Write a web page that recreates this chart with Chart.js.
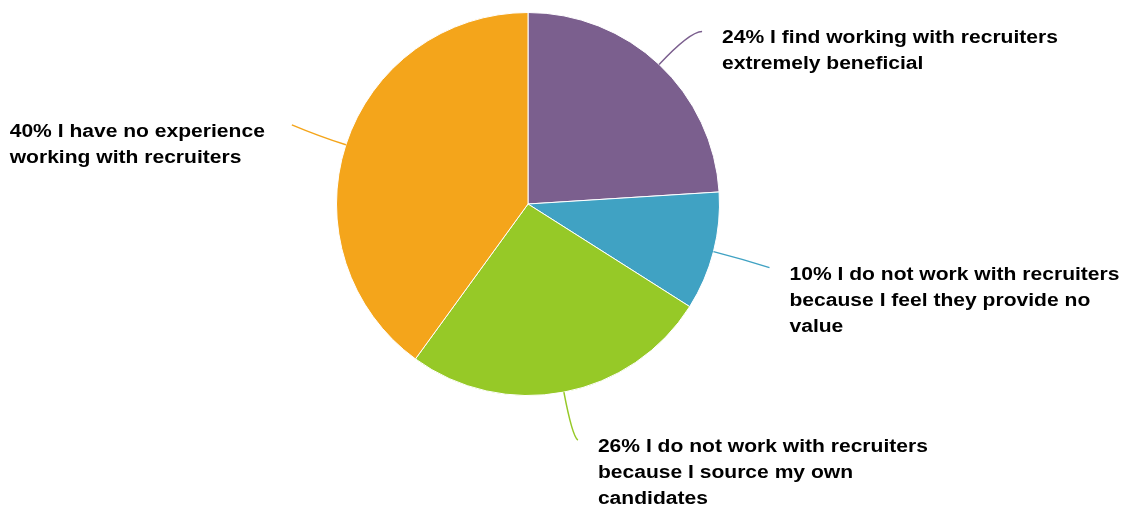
<!DOCTYPE html>
<html>
<head>
<meta charset="utf-8">
<script src="https://cdn.jsdelivr.net/npm/chart.js@4/dist/chart.umd.min.js"></script>
<style>
  html, body { margin: 0; padding: 0; background: #fff; }
  #wrap { width: 1121px; height: 510px; position: relative; }
</style>
</head>
<body>
<div id="wrap"><canvas id="recruiterPie"></canvas></div>
<script>
// survey answers, clockwise from 12 o'clock
const answers = [
    ['I find working with recruiters', 'extremely beneficial'],
    ['I do not work with recruiters', 'because I feel they provide no', 'value'],
    ['I do not work with recruiters', 'because I source my own', 'candidates'],
    ['I have no experience', 'working with recruiters']
];
const shares = [24, 10, 26, 40];
const sliceColors = ['#7b5f8e', '#40a2c3', '#96c927', '#f4a51b'];

// leader line end (relative to slice edge midpoint) and curve bend length
const leaders = [
    { dx: 43, dy: -33, bend: 45, side: 'right' },
    { dx: 56, dy: 16, bend: 30, side: 'right' },
    { dx: 14, dy: 48, bend: 45, side: 'right' },
    { dx: -54, dy: -20, bend: 30, side: 'left' }
];

const FONT = 'bold 18px "Liberation Sans", Arial, sans-serif';
const STRETCH = 1.17;   // labels use a wide bold face
const LINE_H = 26;

const calloutPlugin = {
    id: 'callouts',
    afterDatasetsDraw(chart) {
        const ctx = chart.ctx;
        const meta = chart.getDatasetMeta(0);
        meta.data.forEach((arc, i) => {
            const { x, y, startAngle, endAngle, outerRadius } = arc.getProps(['x', 'y', 'startAngle', 'endAngle', 'outerRadius'], true);
            const mid = (startAngle + endAngle) / 2;
            const ux = Math.cos(mid), uy = Math.sin(mid);
            const sx = x + ux * outerRadius, sy = y + uy * outerRadius;
            const lay = leaders[i];
            const ex = sx + lay.dx, ey = sy + lay.dy;
            const cx = sx + ux * lay.bend, cy = sy + uy * lay.bend;

            ctx.save();
            ctx.strokeStyle = sliceColors[i];
            ctx.lineWidth = 1.5;
            ctx.beginPath();
            ctx.moveTo(sx, sy);
            ctx.quadraticCurveTo(cx, cy, ex, ey);
            ctx.stroke();

            const lines = answers[i].slice();
            lines[0] = shares[i] + '% ' + lines[0];
            ctx.font = FONT;
            ctx.fillStyle = '#000';
            ctx.textBaseline = 'alphabetic';
            ctx.textAlign = 'left';
            let tx;
            if (lay.side === 'right') {
                tx = ex + 20;
            } else {
                const w = Math.max(...lines.map(l => ctx.measureText(l).width)) * STRETCH;
                tx = ex - 27 - w;
            }
            lines.forEach((l, k) => {
                ctx.save();
                ctx.translate(tx, ey + 12 + k * LINE_H);
                ctx.scale(STRETCH, 1);
                ctx.fillText(l, 0, 0);
                ctx.restore();
            });
            ctx.restore();
        });
    }
};

new Chart(document.getElementById('recruiterPie'), {
    type: 'pie',
    data: {
        labels: answers.map(a => a.join(' ')),
        datasets: [{
            data: shares,
            backgroundColor: sliceColors,
            borderColor: '#ffffff',
            borderWidth: 1
        }]
    },
    options: {
        responsive: true,
        maintainAspectRatio: false,
        animation: false,
        layout: { padding: { top: 12, bottom: 114, left: 0, right: 65 } },
        plugins: {
            legend: { display: false },
            tooltip: { enabled: false }
        }
    },
    plugins: [calloutPlugin]
});
</script>
</body>
</html>
